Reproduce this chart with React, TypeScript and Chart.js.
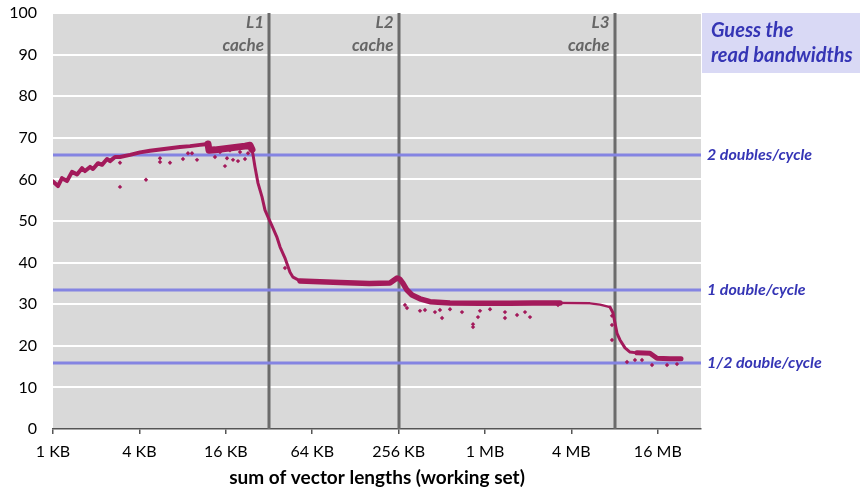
import React, { useEffect, useRef } from 'react';
import { Chart, registerables } from 'chart.js';
Chart.register(...registerables);

// x axis ticks (working set in KB)
const xTickValues = [1, 4, 16, 64, 256, 1024, 4096, 16384];
const xTickLabels = ['1 KB', '4 KB', '16 KB', '64 KB', '256 KB', '1 MB', '4 MB', '16 MB'];
const yTickValues = [0, 10, 20, 30, 40, 50, 60, 70, 80, 90, 100];

// cache boundaries (KB)
const cacheSizesKB = [32, 256, 8192];
const cacheLabels = ['L1', 'L2', 'L3'];

// theoretical read bandwidth levels (GB/s)
const bandwidthLevels = [65.8, 33.5, 15.8];
const bandwidthLabels = ['2 doubles/cycle', '1 double/cycle', '1/2 double/cycle'];

// measured main curve
const mainSizesKB = [
  1.0, 1.083, 1.155, 1.252, 1.356, 1.47, 1.592, 1.671, 1.811, 1.9, 2.059, 2.195, 2.378, 2.496, 2.704,
  2.93, 3.44, 4.04, 4.74, 5.57, 6.54, 7.67, 9.01, 10.58, 12.03,
  12.22, 13.45, 15.79, 18.54, 21.77, 23.59,
  24.36, 24.76, 25.56, 26.82, 28.6, 30.01, 31.47, 33.41, 36.26, 38.18, 41.36, 44.82, 47.04, 52.63,
  100, 160, 223, 249.6, 261.8, 274.7, 292.9, 317.3, 360.8, 423.7, 584, 945, 1530, 2212, 3411, 5523,
  6480, 7610, 7985, 8243, 8515, 8932, 9680, 10488, 11727, 14453, 16169, 19920, 23780,
];
const mainBandwidth = [
  59.5, 58.4, 60.3, 59.6, 61.8, 61.2, 62.7, 62.0, 63.0, 62.5, 63.9, 63.5, 64.9, 64.4, 65.4,
  65.4, 65.9, 66.5, 66.9, 67.2, 67.5, 67.8, 68.0, 68.3, 68.5,
  67.0, 67.1, 67.4, 67.7, 68.0, 68.2,
  67.2, 65.9, 63.0, 59.1, 55.8, 52.6, 51.0, 49.0, 46.2, 43.8, 41.1, 37.7, 36.5, 35.6,
  35.2, 35.0, 35.1, 36.3, 36.0, 35.0, 33.4, 32.2, 31.3, 30.6, 30.3, 30.2, 30.2, 30.3, 30.3, 30.2,
  29.9, 29.3, 27.9, 25.5, 23.0, 21.4, 19.5, 18.5, 18.3, 18.2, 17.0, 16.9, 16.9,
];

// scattered outlier measurements
const outlierSizesKB = [
  2.93, 4.447, 2.93, 5.567, 5.567, 6.535, 8.05, 8.72, 9.3, 10.08, 13.45, 15.79, 16.31, 17.96, 19.46,
  21.77, 22.85, 14.58, 20.1, 17.11, 41.36,
  283.6, 292.9, 360.8, 391, 459, 514, 584, 708, 845, 845, 915, 945, 1110, 1411, 1411, 1712, 1946, 2108, 3304, 497,
  7857, 7857, 7857, 9993, 11358, 12714, 14930, 19000, 22290,
];
const outlierBandwidth = [
  58.2, 59.9, 64.0, 65.1, 64.2, 64.0, 64.9, 66.3, 66.3, 64.7, 65.4, 63.2, 65.1, 64.7, 64.4,
  64.9, 66.3, 66.6, 66.6, 67.0, 38.7,
  29.8, 29.1, 28.4, 28.6, 28.1, 26.7, 28.8, 28.1, 24.5, 25.2, 26.9, 28.4, 28.8, 26.7, 28.1, 27.4, 28.1, 26.9, 29.8, 28.6,
  25.0, 21.4, 27.2, 16.1, 16.6, 16.6, 15.4, 15.4, 15.6,
];

const DATA_COLOR = '#a31a5b';
const FONT = 'Lato, "DejaVu Sans", sans-serif';

const decorPlugin = {
  id: 'decor',
  beforeDraw(chart: any) {
    const { ctx, chartArea: a } = chart;
    ctx.save();
    ctx.fillStyle = '#d9d9d9';
    ctx.fillRect(a.left, a.top, a.right - a.left, a.bottom - a.top);
    ctx.fillStyle = '#d9d9f5';
    ctx.fillRect(a.right + 1, a.top, chart.width - a.right - 1, 60);
    ctx.restore();
  },
  beforeDatasetsDraw(chart: any) {
    const { ctx, chartArea: a, scales } = chart;
    ctx.save();
    ctx.strokeStyle = '#6b6b6b';
    ctx.lineWidth = 3;
    cacheSizesKB.forEach((v) => {
      const x = Math.round(scales.x.getPixelForValue(v));
      ctx.beginPath();
      ctx.moveTo(x, a.top);
      ctx.lineTo(x, a.bottom);
      ctx.stroke();
    });
    ctx.strokeStyle = '#8484e2';
    ctx.lineWidth = 3;
    bandwidthLevels.forEach((v) => {
      const y = Math.round(scales.y.getPixelForValue(v));
      ctx.beginPath();
      ctx.moveTo(a.left, y);
      ctx.lineTo(a.right, y);
      ctx.stroke();
    });
    ctx.restore();
  },
  afterDraw(chart: any) {
    const { ctx, chartArea: a, scales } = chart;
    ctx.save();
    ctx.font = `italic bold 17px ${FONT}`;
    ctx.fillStyle = '#666666';
    ctx.textAlign = 'right';
    ctx.textBaseline = 'middle';
    cacheSizesKB.forEach((v, i) => {
      const x = scales.x.getPixelForValue(v) - 5;
      ctx.fillText(cacheLabels[i], x, a.top + 10);
      ctx.fillText('cache', x, a.top + 33);
    });
    ctx.font = `italic bold 16px ${FONT}`;
    ctx.fillStyle = '#3535b5';
    ctx.textAlign = 'left';
    bandwidthLevels.forEach((v, i) => {
      const y = scales.y.getPixelForValue(v);
      ctx.fillText(bandwidthLabels[i], a.right + 6, y);
    });
    ctx.font = `italic bold 20px ${FONT}`;
    ctx.fillText('Guess the', a.right + 10, a.top + 18);
    ctx.fillText('read bandwidths', a.right + 10, a.top + 43);
    ctx.restore();
  },
};

function widthFor(x: number): number {
  if (x < 12) return 4;
  if (x < 24) return 7;
  if (x < 50) return 3;
  if (x < 2300) return 5.5;
  if (x < 7500) return 2.5;
  if (x < 11000) return 3;
  return 5;
}

export default function App() {
  const ref = useRef<HTMLCanvasElement>(null);
  useEffect(() => {
    document.body.style.margin = '0';
    const mainData = mainSizesKB.map((x, i) => ({ x, y: mainBandwidth[i] }));
    const outData = outlierSizesKB.map((x, i) => ({ x, y: outlierBandwidth[i] }));
    const chart = new Chart(ref.current as HTMLCanvasElement, {
      type: 'line',
      data: {
        datasets: [
          {
            data: outData,
            showLine: false,
            pointRadius: 2.2,
            pointStyle: 'rectRot',
            pointBackgroundColor: DATA_COLOR,
            pointBorderWidth: 0,
            borderColor: DATA_COLOR,
          },
          {
            data: mainData,
            borderColor: DATA_COLOR,
            borderWidth: 4,
            pointRadius: 0,
            tension: 0,
            borderJoinStyle: 'round',
            borderCapStyle: 'round',
            segment: {
              borderWidth: (c: any) => widthFor(c.p0.parsed.x),
            },
          } as any,
        ],
      },
      options: {
        animation: false,
        responsive: true,
        maintainAspectRatio: false,
        layout: { padding: { top: 13, right: 159, left: 0, bottom: 0 } },
        plugins: { legend: { display: false }, tooltip: { enabled: false } },
        scales: {
          x: {
            type: 'logarithmic',
            min: 1,
            max: 32768,
            afterFit: (s: any) => { s.height = 61; },
            afterBuildTicks: (s: any) => { s.ticks = xTickValues.map((v) => ({ value: v })); },
            grid: { drawOnChartArea: false, drawTicks: true, tickLength: 5, color: '#555555', lineWidth: 1.5 },
            border: { display: true, color: '#555555', width: 1.5 },
            ticks: {
              autoSkip: false,
              maxRotation: 0,
              padding: 8,
              color: '#000000',
              font: { family: FONT, size: 16 },
              callback: (v: any) => {
                const i = xTickValues.indexOf(Number(v));
                return i >= 0 ? xTickLabels[i] : '';
              },
            },
            title: {
              display: true,
              text: 'sum of vector lengths (working set)',
              color: '#000000',
              font: { family: FONT, size: 19, weight: 'bold' },
              padding: { top: 0, bottom: 1 },
            },
          },
          y: {
            type: 'linear',
            min: 0,
            max: 100,
            afterFit: (s: any) => { s.width = 53; },
            afterBuildTicks: (s: any) => { s.ticks = yTickValues.map((v) => ({ value: v })); },
            grid: {
              drawTicks: true,
              tickLength: 13,
              tickColor: 'rgba(0,0,0,0)',
              lineWidth: 2,
              color: (c: any) => (c.tick && c.tick.value === 0 ? 'rgba(0,0,0,0)' : '#ffffff'),
            },
            border: { display: false },
            ticks: { padding: 3, color: '#000000', font: { family: FONT, size: 16 } },
          },
        },
      },
      plugins: [decorPlugin],
    });
    return () => chart.destroy();
  }, []);
  return (
    <div style={{ position: 'relative', width: 860, height: 490 }}>
      <canvas ref={ref} />
    </div>
  );
}
